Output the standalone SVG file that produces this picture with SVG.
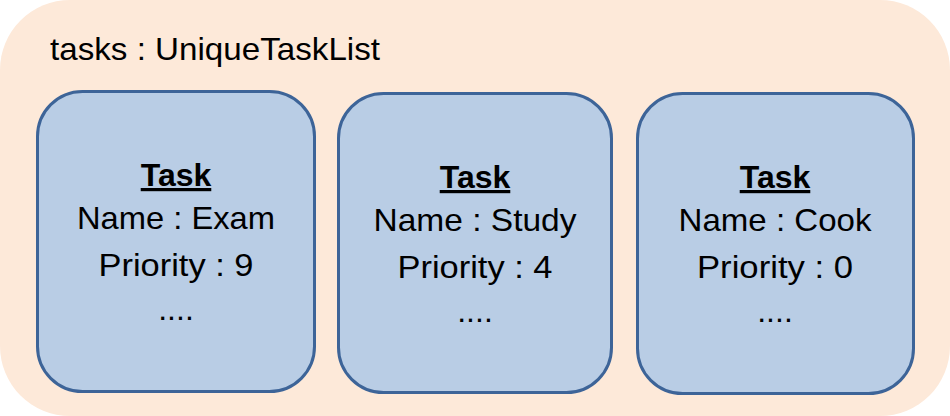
<svg xmlns="http://www.w3.org/2000/svg" width="950" height="416" viewBox="0 0 950 416">
<style>
.bg{fill:#fde9d9;stroke:none}
.box{fill:#b9cde5;stroke:#3d6498;stroke-width:3}
text{font-family:"Liberation Sans",Arial,sans-serif;font-size:32px;fill:#000;text-anchor:middle}
.t{font-weight:bold;text-decoration:underline}
.title{text-anchor:start}
</style>
<g id="container">
<rect class="bg" x="0" y="0" width="950" height="416" rx="70" ry="70"/>
<text class="title" x="50" y="60" textLength="330" lengthAdjust="spacingAndGlyphs">tasks : UniqueTaskList</text>
</g>
<g id="task-exam">
<rect class="box" x="37.5" y="91.5" width="277" height="300" rx="45" ry="45"/>
<text class="t" x="176" y="186">Task</text>
<text x="176" y="229" textLength="198" lengthAdjust="spacingAndGlyphs">Name : Exam</text>
<text x="176" y="276" textLength="155" lengthAdjust="spacingAndGlyphs">Priority : 9</text>
<text x="176" y="320">....</text>
</g>
<g id="task-study">
<rect class="box" x="338.5" y="93.5" width="273" height="299" rx="45" ry="45"/>
<text class="t" x="475" y="188">Task</text>
<text x="475" y="231" textLength="203" lengthAdjust="spacingAndGlyphs">Name : Study</text>
<text x="475" y="278" textLength="155" lengthAdjust="spacingAndGlyphs">Priority : 4</text>
<text x="475" y="322">....</text>
</g>
<g id="task-cook">
<rect class="box" x="637.5" y="93.5" width="276" height="300" rx="45" ry="45"/>
<text class="t" x="775" y="188">Task</text>
<text x="775" y="231" textLength="193" lengthAdjust="spacingAndGlyphs">Name : Cook</text>
<text x="775" y="278" textLength="156" lengthAdjust="spacingAndGlyphs">Priority : 0</text>
<text x="775" y="322">....</text>
</g>
<g id="connectors"></g>
</svg>
